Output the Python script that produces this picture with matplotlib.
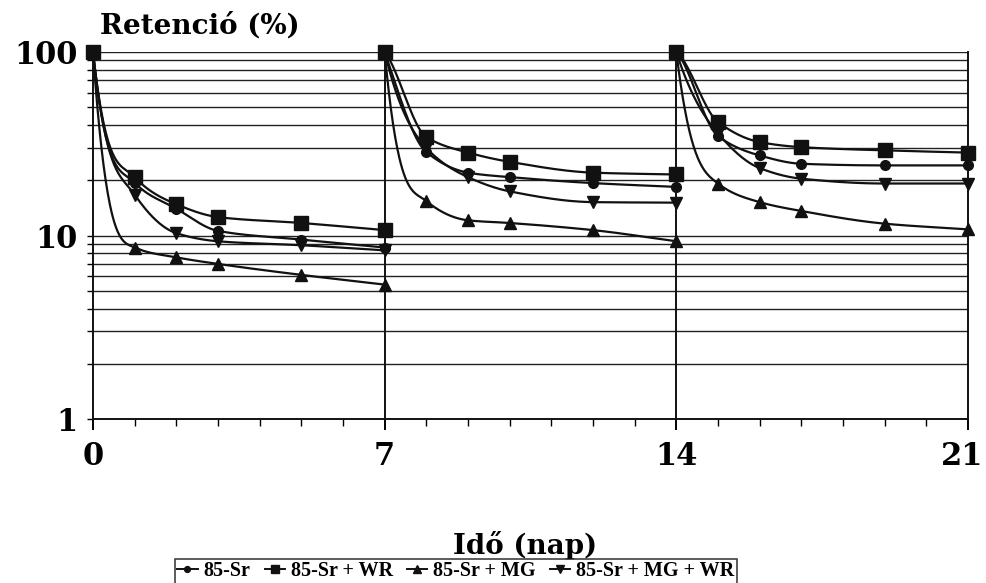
import numpy as np
import matplotlib.pyplot as plt
from matplotlib.lines import Line2D
from matplotlib.ticker import FixedLocator, NullFormatter
from matplotlib.transforms import ScaledTranslation

# napok (3 hetes ciklus, 7. és 14. napon új adag -> 100%)
days = [0, 1, 2, 3, 5, 7, 7, 8, 9, 10, 12, 14, 14, 15, 16, 17, 19, 21]

sr = [100, 19.4, 14.0, 10.6, 9.5, 8.6,
      100, 28.5, 22.0, 20.8, 19.3, 18.4,
      100, 34.8, 27.3, 24.6, 24.1, 24.1]
sr_wr = [100, 20.8, 14.8, 12.6, 11.7, 10.7,
         100, 34.4, 28.3, 25.2, 22.0, 21.5,
         100, 41.5, 32.3, 30.3, 29.1, 28.3]
sr_mg = [100, 8.6, 7.6, 7.0, 6.1, 5.4,
         100, 15.4, 12.1, 11.7, 10.7, 9.3,
         100, 19.2, 15.2, 13.6, 11.6, 10.8]
sr_mg_wr = [100, 16.7, 10.3, 9.3, 8.85, 8.3,
            100, 30.0, 20.8, 17.4, 15.2, 15.1,
            100, 36.0, 23.3, 20.4, 19.2, 19.2]

labels = ['85-Sr', '85-Sr + WR', '85-Sr + MG', '85-Sr + MG + WR']
markers = ['o', 's', '^', 'v']
msizes = [7, 10, 8.5, 8.5]
zorders = [4, 6, 3, 5]
# a görbék kezdő meredeksége hetenként (csak a rajzolás simításához)
start_steep = [[3.0, 1.2, 0.5], [3.0, 0.6, 0.45], [3.0, 3.0, 2.6], [2.7, 1.8, 1.6]]


def smooth(x, y, a0, n=60):
    # monoton Hermite-interpoláció log skálán
    x = np.asarray(x, float)
    v = np.log10(np.asarray(y, float))
    h = np.diff(x)
    d = np.diff(v) / h
    m = np.zeros_like(x)
    for i in range(1, len(x) - 1):
        if d[i - 1] * d[i] > 0:
            w1 = 2 * h[i] + h[i - 1]
            w2 = h[i] + 2 * h[i - 1]
            m[i] = (w1 + w2) / (w1 / d[i - 1] + w2 / d[i])
    m[0] = a0 * d[0]
    m[-1] = d[-1]
    xs, vs = [], []
    for i in range(len(x) - 1):
        t = np.linspace(0, 1, n)
        h00 = 2 * t**3 - 3 * t**2 + 1
        h10 = t**3 - 2 * t**2 + t
        h01 = -2 * t**3 + 3 * t**2
        h11 = t**3 - t**2
        xs.append(x[i] + t * h[i])
        vs.append(h00 * v[i] + h10 * h[i] * m[i] + h01 * v[i + 1] + h11 * h[i] * m[i + 1])
    return np.concatenate(xs), 10 ** np.concatenate(vs)


plt.rcParams['font.family'] = 'DejaVu Serif'

fig = plt.figure(figsize=(9.87, 5.83), dpi=100)
ax = fig.add_axes([93 / 987, 1 - 419 / 583, 875 / 987, 367 / 583])

for ys, lab, mk, ms, zo, st in zip([sr, sr_wr, sr_mg, sr_mg_wr], labels, markers,
                                   msizes, zorders, start_steep):
    # hetenként külön görbe
    for k in range(3):
        xw = days[6 * k:6 * k + 6]
        yw = ys[6 * k:6 * k + 6]
        sx, sy = smooth(xw, yw, st[k])
        ax.plot(sx, sy, color='#111111', lw=1.6, zorder=zo, clip_on=False)
    ax.plot(days, ys, linestyle='none', marker=mk, ms=ms, color='#111111',
            zorder=zo + 10, clip_on=False)

ax.set_yscale('log')
ax.set_ylim(1, 100)
ax.set_xlim(0, 21)

ax.yaxis.set_major_locator(FixedLocator([1, 10, 100]))
ax.yaxis.set_minor_locator(FixedLocator([v * 10 ** e for e in range(2) for v in range(2, 10)]))
ax.yaxis.set_minor_formatter(NullFormatter())
ax.set_yticklabels(['1', '10', '100'])
ax.xaxis.set_major_locator(FixedLocator([0, 7, 14, 21]))
ax.xaxis.set_minor_locator(FixedLocator(range(22)))

ax.grid(True, which='both', axis='y', color='#222222', lw=1.0)
for xv in [7, 14]:
    ax.axvline(xv, color='#111111', lw=1.4, zorder=2)

for s in ['left', 'right', 'bottom']:
    ax.spines[s].set_color('#111111')
    ax.spines[s].set_linewidth(1.4)
ax.spines['top'].set_visible(False)

ax.tick_params(axis='y', which='both', length=4, width=1, direction='out', pad=7)
ax.tick_params(axis='x', which='major', length=8, width=1.4, direction='out', pad=8)
ax.tick_params(axis='x', which='minor', length=5, width=1, direction='out')
for lb in ax.get_xticklabels() + ax.get_yticklabels():
    lb.set_fontsize(22)
    lb.set_fontweight('bold')
# a "21" kicsit balra, hogy ne lógjon ki
last = ax.get_xticklabels()[-1]
last.set_transform(last.get_transform() + ScaledTranslation(-4 / 72, 0, fig.dpi_scale_trans))

fig.text(100 / 987, 1 - 12 / 583, 'Retenció (%)', fontsize=20, fontweight='bold',
         ha='left', va='top')
fig.text(525 / 987, 1 - 545 / 583, 'Idő (nap)', fontsize=20, fontweight='bold',
         ha='center', va='center')

handles = [Line2D([], [], color='#111111', lw=1.4, marker=mk, ms=ms * 0.6)
           for mk, ms in zip(markers, msizes)]
leg = fig.legend(handles, labels, loc='upper left', ncol=4,
                 bbox_to_anchor=(175 / 987, 1 - 559 / 583),
                 prop={'family': 'Liberation Serif', 'weight': 'bold', 'size': 14.5},
                 handlelength=1.0, handletextpad=0.3, columnspacing=0.7,
                 borderpad=0.12, frameon=True, fancybox=False, borderaxespad=0)
leg.get_frame().set_edgecolor('#111111')
leg.get_frame().set_linewidth(1.2)

fig.savefig('out.png', dpi=100)
